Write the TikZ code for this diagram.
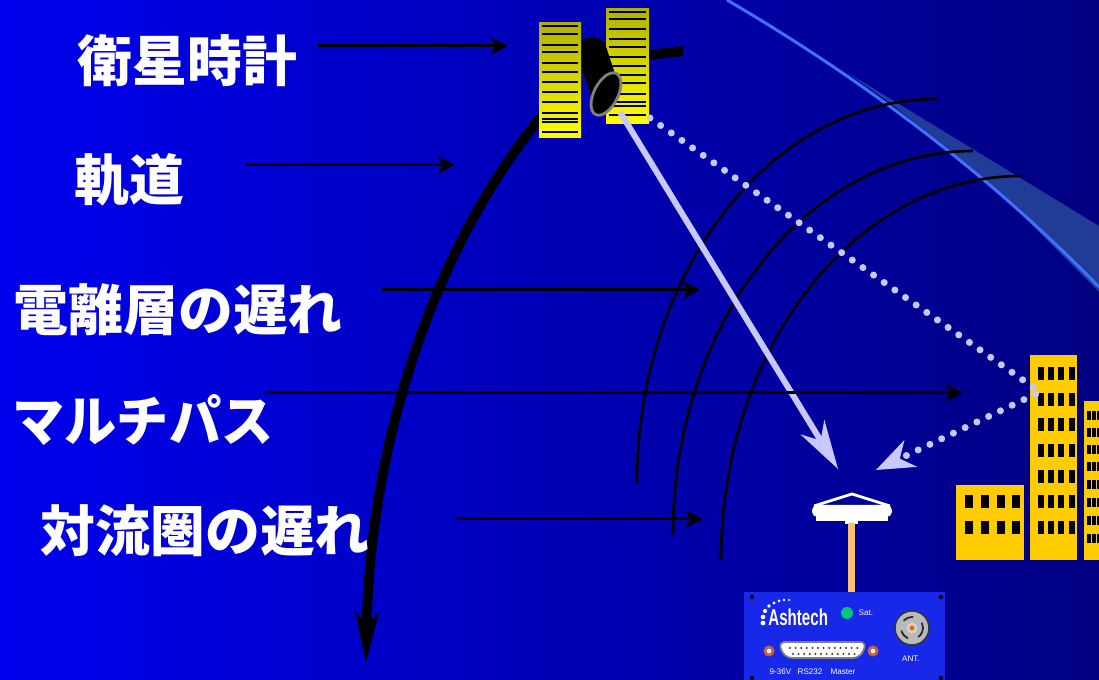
\documentclass[tikz,border=0pt]{standalone}
\usepackage{fontspec}
\usetikzlibrary{arrows.meta}
\newfontfamily\jpfont{Noto Sans CJK JP}
\newfontfamily\logofont{Liberation Sans}

\definecolor{bgleft}{RGB}{0,0,238}
\definecolor{bgright}{RGB}{0,0,128}
\definecolor{lav}{RGB}{200,200,255}
\definecolor{bldg}{RGB}{255,204,0}
\definecolor{rim}{RGB}{64,112,255}
\definecolor{haze}{RGB}{32,60,150}
\definecolor{panelTop}{RGB}{176,176,0}
\definecolor{panelBot}{RGB}{255,255,0}
\definecolor{rxblue}{RGB}{24,40,232}
\definecolor{pole}{RGB}{250,192,112}
\definecolor{ledgreen}{RGB}{0,200,120}
\definecolor{screwred}{RGB}{200,100,60}

\tikzset{
  lbl/.style={text=white, font=\jpfont\bfseries\fontsize{15.6}{18}\selectfont, inner sep=0pt, anchor=west},
  pointer/.style={draw=black, line width=0.85pt, -{Stealth[length=5pt,width=5pt,inset=1.5pt]}},
  wave/.style={draw=black, line width=0.75pt},
  orbitline/.style={draw=black, line width=2.8pt, -{Stealth[length=15pt,width=7pt,inset=4.5pt,line width=0pt]}},
  direct/.style={draw=lav, line width=1.7pt, -{Stealth[length=14pt,width=8pt,inset=4.5pt,line width=0pt]}},
  echo/.style={draw=lav, line width=2pt, line cap=round, dash pattern=on 0pt off 3.7pt, -{Stealth[length=11pt,width=8.5pt,inset=3.5pt,line width=0pt]}},
  panelline/.style={draw=black, line width=0.35pt},
  tiny/.style={text=white, font=\logofont\fontsize{2.3}{3}\selectfont, inner sep=0pt},
}

\begin{document}
\begin{tikzpicture}[x=0.01cm,y=-0.01cm]
% sky
\fill[left color=bgleft, right color=bgright] (0,0) rectangle (1099,680);
\useasboundingbox (0,0) rectangle (1099,680);

% edge of the atmosphere
\fill[haze] (848,73) -- (1099,226) -- (1099,292) -- (1008,201) -- (950,150) -- (890,103) -- cycle;
\draw[rim, line width=0.85pt] (727,0) .. controls (850,72) and (980,165) .. (1099,287);

% wavefronts through ionosphere and troposphere
\draw[wave] (637,483) arc[start angle=180, end angle=270, x radius=300, y radius=384];
\draw[wave] (673,535) arc[start angle=180, end angle=270, x radius=300, y radius=384];
\draw[wave] (721,560) arc[start angle=180, end angle=270, x radius=300, y radius=384];

% orbit
\coordinate (orbA) at (545,112);
\coordinate (orbB) at (366,663);
\draw[orbitline] (orbA) .. controls (430,250) and (370,450) .. (orbB);

% satellite: right panel, arm, body, left panel
\fill[top color=panelTop, bottom color=panelBot] (606,9) rectangle (649,124);
\foreach \yy in {12,19,29,39,47,57,66,75,83,94,102,106,115}
  \draw[panelline] (609,\yy) -- (646,\yy);
\fill[black] (649,50) -- (683,46) -- (683,56) -- (649,60) -- cycle;
\draw[black, line width=8.5pt] (592,52) -- (606,94);
\fill[black] (592,52) circle (15);
\draw[gray, line width=0.8pt, fill=black, rotate around={-27:(606,94)}] (606,94) ellipse [x radius=12, y radius=23];
\fill[top color=panelTop, bottom color=panelBot] (539,23) rectangle (581,138);
\foreach \yy in {26,34,45,52,63,72,82,92,102,113,119,122,132}
  \draw[panelline] (542,\yy) -- (578,\yy);

% buildings
\fill[bldg] (956,485) rectangle (1024,560);
\foreach \cx in {965,981,997,1012}
  \foreach \ry in {495,521}
    \fill[black] (\cx,\ry) rectangle ++(8,13);
\fill[bldg] (1030,355) rectangle (1077,560);
\foreach \cx in {1038,1048,1058,1069}
  \foreach \ry in {367,393,418,444,470,495,521}
    \fill[black] (\cx,\ry) rectangle ++(6,13);
\fill[bldg] (1084,401) rectangle (1099,560);
\foreach \cx/\w in {1087/4,1092/3.5,1097/2}
  \foreach \ry in {411,428,445,462,480,498,516,534}
    \fill[black] (\cx,\ry) rectangle ++(\w,9);

% signals
\coordinate (satDirect) at (620,112);
\coordinate (antTop) at (838,469);
\coordinate (satEcho) at (650,118);
\coordinate (wall) at (1040,392);
\coordinate (echoEnd) at (876,470);
\draw[direct] (satDirect) -- (antTop);
\draw[echo] (satEcho) -- (wall) -- (echoEnd);

% antenna
\draw[white, line width=0.8pt, line join=round] (814,506) -- (852,494) -- (890,506);
\fill[white, rounded corners=1.5] (812,505) rectangle (892,517);
\fill[white] (816,516) rectangle (888,521);
\fill[white] (845,520) rectangle (858,524);
\fill[pole] (848,523) rectangle (855,593);

% receiver
\fill[rxblue] (744,592) rectangle (945,680);
\foreach \p in {(752,597),(941,597),(752,678),(941,678)}
  \fill[black] \p circle (2.2);
\node[text=white, font=\logofont\bfseries\fontsize{6.5}{7}\selectfont, xscale=0.66, inner sep=0pt, anchor=west] (logo) at (768,617) {Ashtech};
\foreach \x/\y/\r in {763/623/2.4, 763/617/2.3, 765/611/2.1, 769/606/1.9, 774/603/1.7, 779/601/1.5, 784/600/1.3, 789/600/1.1}
  \fill[white] (\x,\y) circle (\r);
\fill[ledgreen] (847,613) circle (6);
\node[tiny, anchor=west] (satlbl) at (858,613) {Sat.};
\fill[gray!55] (912,628) circle (17);
\draw[gray!40!black, line width=0.4pt] (912,628) circle (17);
\draw[gray!30!black, dashed, line width=0.5pt] (912,628) circle (11);
\fill[gray!35] (912,628) circle (5.5);
\fill[orange!80!red] (912,628) circle (2.5);
\node[tiny] (antlbl) at (911,659) {ANT.};
\filldraw[fill=white, draw=gray, line width=0.5pt, rounded corners=2] (778,642) -- (867,642) -- (860,658) -- (785,658) -- cycle;
\foreach \i in {0,...,12}
  \fill[gray!40!black] ({790+\i*5.6},648) circle (1.1);
\foreach \i in {0,...,11}
  \fill[gray!40!black] ({793+\i*5.6},654) circle (1.1);
\foreach \x in {769,873} {
  \fill[screwred] (\x,651) circle (5.5);
  \fill[white] (\x,651) circle (2.3);
}
\node[tiny, anchor=west] (pwr) at (769,672) {9-36V};
\node[tiny, anchor=west] (serial) at (797,672) {RS232};
\node[tiny, anchor=west] (master) at (830,672) {Master};

% labels and their pointers
\node[lbl] (clock) at (77,61) {衛星時計};
\node[lbl] (orbit) at (74,180) {軌道};
\node[lbl] (iono) at (13,310) {電離層の遅れ};
\node[lbl, xscale=0.95] (multi) at (12,420) {マルチパス};
\node[lbl] (tropo) at (40,531) {対流圏の遅れ};

\coordinate (p1a) at (318,46);  \coordinate (p1b) at (508,46);
\coordinate (p2a) at (246,165); \coordinate (p2b) at (455,165);
\coordinate (p3a) at (382,290); \coordinate (p3b) at (700,290);
\coordinate (p4a) at (265,393); \coordinate (p4b) at (963,393);
\coordinate (p5a) at (456,519); \coordinate (p5b) at (703,519);
\draw[pointer] (p1a) -- (p1b);
\draw[pointer] (p2a) -- (p2b);
\draw[pointer] (p3a) -- (p3b);
\draw[pointer] (p4a) -- (p4b);
\draw[pointer] (p5a) -- (p5b);
\end{tikzpicture}
\end{document}
